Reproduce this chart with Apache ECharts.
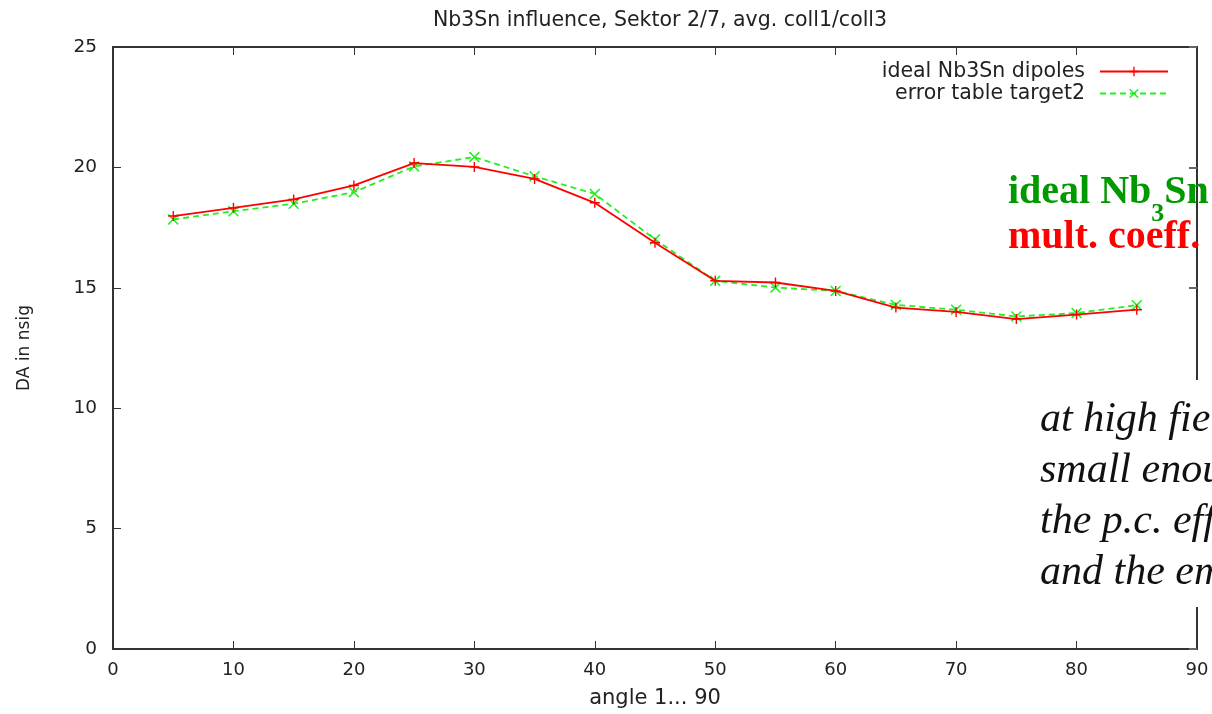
<!DOCTYPE html>
<html>
<head>
<meta charset="utf-8">
<script src="https://cdn.jsdelivr.net/npm/echarts@6/dist/echarts.min.js"></script>
<style>html,body{margin:0;padding:0;background:#fff;}#c{width:1212px;height:714px;}</style>
</head>
<body>
<div id="c"></div>
<script>
const angles = [5,10,15,20,25,30,35,40,45,50,55,60,65,70,75,80,85];
const idealDipoles = [17.98,18.32,18.67,19.25,20.18,20.02,19.52,18.53,16.87,15.29,15.22,14.87,14.18,14.0,13.7,13.89,14.09];
const errorTarget2 = [17.84,18.18,18.49,18.97,20.04,20.43,19.63,18.9,17.01,15.29,15.01,14.87,14.29,14.09,13.81,13.95,14.28];
const seriesNames = ['ideal Nb3Sn dipoles','error table target2'];
const titleText = 'Nb3Sn influence, Sektor 2/7, avg. coll1/coll3';
const xName = 'angle 1... 90';
const yName = 'DA in nsig';
const noteLines = ['at high fie','small enou','the p.c. eff','and the em'];

const plusPath = 'path://M4.3,0H5.7V4.3H10V5.7H5.7V10H4.3V5.7H0V4.3H4.3Z';
const crossPath = 'path://M1,0L5,4L9,0L10,1L6,5L10,9L9,10L5,6L1,10L0,9L4,5L0,1Z';
const pairs = (ys) => angles.map((a,i)=>[a, ys[i]]);

const font = 'DejaVu Sans, Verdana, sans-serif';
const serif = 'Liberation Serif, Times New Roman, serif';
const axisCol = '#333';
const txtCol = '#222';
const chart = echarts.init(document.getElementById('c'), null, {renderer:'canvas'});
chart.setOption({
  animation:false,
  backgroundColor:'#fff',
  title:{text:titleText,left:655,textAlign:'center',top:5,textStyle:{fontFamily:font,fontSize:20.5,fontWeight:'normal',color:txtCol}},
  grid:{left:113,right:15,top:47,bottom:63,show:true,borderColor:axisCol,borderWidth:2,backgroundColor:'transparent'},
  legend:{orient:'vertical',right:38,top:56,align:'right',itemWidth:68,itemHeight:12,itemGap:1,
    textStyle:{fontFamily:font,fontSize:20.5,color:txtCol,padding:[0,10,0,0]},
    data:seriesNames},
  xAxis:[
    {type:'value',min:0,max:90,interval:10,position:'bottom',name:xName,nameLocation:'middle',nameGap:39,
     nameTextStyle:{fontFamily:font,fontSize:21,color:txtCol},
     axisLine:{show:true,onZero:false,lineStyle:{color:axisCol,width:2}},
     axisTick:{show:true,inside:true,length:8,lineStyle:{color:axisCol,width:1}},
     axisLabel:{fontFamily:font,fontSize:18,color:txtCol,margin:12},
     splitLine:{show:false}},
    {type:'value',min:0,max:90,interval:10,position:'top',
     axisLine:{show:true,onZero:false,lineStyle:{color:axisCol,width:2}},
     axisTick:{show:true,inside:true,length:8,lineStyle:{color:axisCol,width:1}},
     axisLabel:{show:false},splitLine:{show:false}}
  ],
  yAxis:[
    {type:'value',min:0,max:25,interval:5,position:'left',name:yName,nameLocation:'middle',nameGap:80,
     nameTextStyle:{fontFamily:font,fontSize:17,color:txtCol},
     axisLine:{show:true,onZero:false,lineStyle:{color:axisCol,width:2}},
     axisTick:{show:true,inside:true,length:8,lineStyle:{color:axisCol,width:1}},
     axisLabel:{fontFamily:font,fontSize:18.5,color:txtCol,margin:16},
     splitLine:{show:false}},
    {type:'value',min:0,max:25,interval:5,position:'right',
     axisLine:{show:true,onZero:false,lineStyle:{color:axisCol,width:2}},
     axisTick:{show:true,inside:true,length:8,lineStyle:{color:'#666',width:2}},
     axisLabel:{show:false},splitLine:{show:false}}
  ],
  series:[
    {name:seriesNames[0],type:'line',data:pairs(idealDipoles),symbol:plusPath,symbolSize:10,
     lineStyle:{color:'#ff0000',width:1.8},itemStyle:{color:'#ff0000'},z:3},
    {name:seriesNames[1],type:'line',data:pairs(errorTarget2),symbol:crossPath,symbolSize:11,
     lineStyle:{color:'#22f022',width:1.8,type:[6,4]},itemStyle:{color:'#22f022'},z:2}
  ],
  graphic:[
    {type:'text',left:1008,top:173,z:1,style:{
      text:'{g|ideal Nb}{s|3}{g|Sn}',
      rich:{g:{fontFamily:serif,fontWeight:'bold',fontSize:40,fill:'#009a00'},
            s:{fontFamily:serif,fontWeight:'bold',fontSize:26,fill:'#009a00',verticalAlign:'bottom',padding:[0,0,-14,0]}}}},
    {type:'text',left:1008,top:218,z:1,style:{text:'mult. coeff.',font:'bold 40px '+serif,fill:'#ff0000'}},
    {type:'rect',shape:{x:1000,y:380,width:212,height:227},style:{fill:'#fff'},z:100},
    {type:'group',z:101,children: noteLines.map((t,i)=>({type:'text',x:1040,y:399+i*51,z:101,
      style:{text:t,font:'italic 42px '+serif,fill:'#111'}}))}
  ]
});
</script>
</body>
</html>
